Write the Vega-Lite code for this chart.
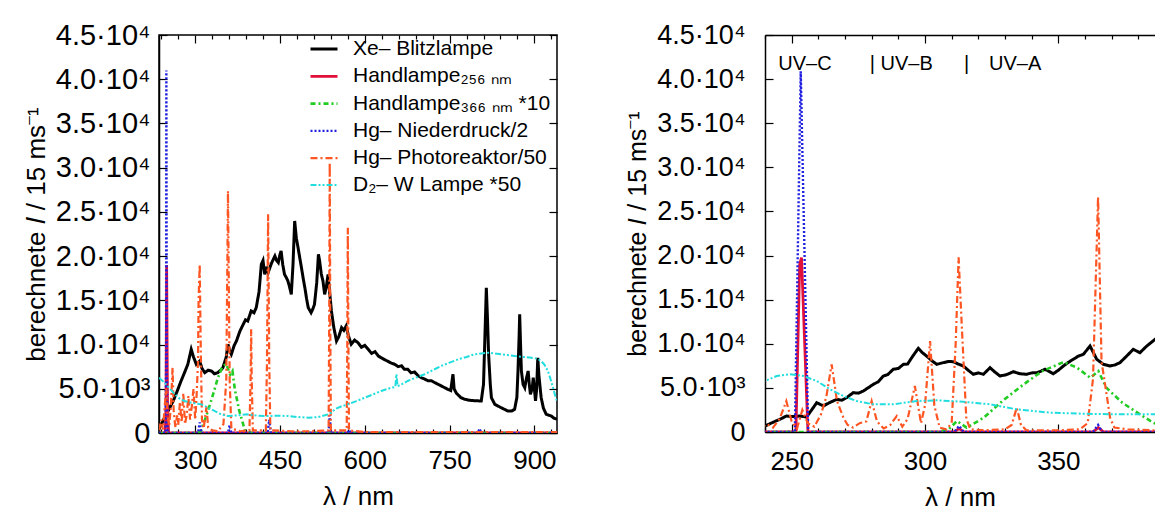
{
"$schema":"https://vega.github.io/schema/vega-lite/v6.json",
"padding":{"left":22,"top":20,"right":0,"bottom":0},
"spacing":64,
"config":{"font":"Liberation Sans","view":{"stroke":"black","strokeWidth":1.5},
"axis":{"grid":false,"domainColor":"black","domainWidth":1.5,"tickColor":"black","tickWidth":1.2,"labelColor":"black","titleColor":"black","labelFont":"Liberation Sans","titleFont":"Liberation Sans","titleFontWeight":"normal","labelOverlap":false,"labelFlush":false,"labelBound":false}},
"resolve":{"scale":{"x":"independent","y":"independent","color":"independent","strokeDash":"independent","strokeWidth":"independent"},"legend":{"color":"independent","strokeDash":"independent"}},
"datasets":{
"left":[
{"k":"Xe","x":236,"y":450},{"k":"Xe","x":244,"y":1500},{"k":"Xe","x":252,"y":2490},{"k":"Xe","x":261,"y":3600},{"k":"Xe","x":268,"y":4700},{"k":"Xe","x":275,"y":5880},{"k":"Xe","x":281,"y":6800},{"k":"Xe","x":287,"y":7770},{"k":"Xe","x":293,"y":9460},{"k":"Xe","x":297,"y":8600},{"k":"Xe","x":302,"y":7770},{"k":"Xe","x":308,"y":8140},{"k":"Xe","x":312,"y":7300},{"k":"Xe","x":317,"y":6820},{"k":"Xe","x":323,"y":7100},{"k":"Xe","x":329,"y":7010},{"k":"Xe","x":334,"y":6700},{"k":"Xe","x":340,"y":6820},{"k":"Xe","x":345,"y":7100},{"k":"Xe","x":349,"y":7380},{"k":"Xe","x":355,"y":8600},{"k":"Xe","x":358,"y":10030},{"k":"Xe","x":361,"y":9300},{"k":"Xe","x":364,"y":8900},{"k":"Xe","x":369,"y":9900},{"k":"Xe","x":373,"y":10400},{"k":"Xe","x":379,"y":11500},{"k":"Xe","x":385,"y":12290},{"k":"Xe","x":389,"y":12800},{"k":"Xe","x":393,"y":12660},{"k":"Xe","x":399,"y":13800},{"k":"Xe","x":404,"y":13600},{"k":"Xe","x":408,"y":14170},{"k":"Xe","x":413,"y":16000},{"k":"Xe","x":417,"y":19080},{"k":"Xe","x":420,"y":19500},{"k":"Xe","x":423,"y":17940},{"k":"Xe","x":426,"y":18800},{"k":"Xe","x":429,"y":18130},{"k":"Xe","x":435,"y":19200},{"k":"Xe","x":441,"y":20010},{"k":"Xe","x":444,"y":19500},{"k":"Xe","x":447,"y":19260},{"k":"Xe","x":450,"y":20200},{"k":"Xe","x":452,"y":20580},{"k":"Xe","x":455,"y":19000},{"k":"Xe","x":458,"y":17940},{"k":"Xe","x":461,"y":17600},{"k":"Xe","x":464,"y":17190},{"k":"Xe","x":467,"y":16500},{"k":"Xe","x":470,"y":15680},{"k":"Xe","x":473,"y":19000},{"k":"Xe","x":476,"y":23970},{"k":"Xe","x":479,"y":22000},{"k":"Xe","x":482,"y":20950},{"k":"Xe","x":485,"y":19800},{"k":"Xe","x":488,"y":18690},{"k":"Xe","x":491,"y":17500},{"k":"Xe","x":494,"y":16430},{"k":"Xe","x":497,"y":15200},{"k":"Xe","x":500,"y":14170},{"k":"Xe","x":505,"y":13600},{"k":"Xe","x":508,"y":14000},{"k":"Xe","x":511,"y":14550},{"k":"Xe","x":515,"y":17000},{"k":"Xe","x":518,"y":20210},{"k":"Xe","x":520,"y":19500},{"k":"Xe","x":523,"y":18000},{"k":"Xe","x":526,"y":17190},{"k":"Xe","x":529,"y":15680},{"k":"Xe","x":532,"y":16500},{"k":"Xe","x":535,"y":17940},{"k":"Xe","x":538,"y":15800},{"k":"Xe","x":541,"y":13800},{"k":"Xe","x":545,"y":12000},{"k":"Xe","x":550,"y":10400},{"k":"Xe","x":554,"y":10900},{"k":"Xe","x":559,"y":11910},{"k":"Xe","x":563,"y":11600},{"k":"Xe","x":567,"y":12100},{"k":"Xe","x":571,"y":11000},{"k":"Xe","x":576,"y":10030},{"k":"Xe","x":582,"y":10500},{"k":"Xe","x":588,"y":10210},{"k":"Xe","x":594,"y":9700},{"k":"Xe","x":600,"y":9900},{"k":"Xe","x":606,"y":9460},{"k":"Xe","x":612,"y":9000},{"k":"Xe","x":618,"y":9200},{"k":"Xe","x":624,"y":8700},{"k":"Xe","x":629,"y":8510},{"k":"Xe","x":635,"y":8300},{"k":"Xe","x":641,"y":8100},{"k":"Xe","x":647,"y":7900},{"k":"Xe","x":653,"y":7770},{"k":"Xe","x":659,"y":7500},{"k":"Xe","x":665,"y":7600},{"k":"Xe","x":670,"y":7200},{"k":"Xe","x":676,"y":7200},{"k":"Xe","x":682,"y":6800},{"k":"Xe","x":688,"y":6900},{"k":"Xe","x":694,"y":6500},{"k":"Xe","x":700,"y":6250},{"k":"Xe","x":706,"y":6100},{"k":"Xe","x":712,"y":5900},{"k":"Xe","x":718,"y":5900},{"k":"Xe","x":724,"y":5690},{"k":"Xe","x":730,"y":5500},{"k":"Xe","x":736,"y":5300},{"k":"Xe","x":742,"y":5100},{"k":"Xe","x":747,"y":4940},{"k":"Xe","x":752,"y":4800},{"k":"Xe","x":756,"y":6640},{"k":"Xe","x":758,"y":5000},{"k":"Xe","x":762,"y":4500},{"k":"Xe","x":770,"y":4000},{"k":"Xe","x":777,"y":3810},{"k":"Xe","x":785,"y":3700},{"k":"Xe","x":795,"y":3650},{"k":"Xe","x":806,"y":3620},{"k":"Xe","x":810,"y":5500},{"k":"Xe","x":813,"y":12000},{"k":"Xe","x":815,"y":16430},{"k":"Xe","x":817,"y":13000},{"k":"Xe","x":819,"y":8900},{"k":"Xe","x":822,"y":5500},{"k":"Xe","x":824,"y":3990},{"k":"Xe","x":830,"y":3240},{"k":"Xe","x":840,"y":2900},{"k":"Xe","x":853,"y":2490},{"k":"Xe","x":860,"y":2500},{"k":"Xe","x":865,"y":2680},{"k":"Xe","x":869,"y":4000},{"k":"Xe","x":871,"y":7010},{"k":"Xe","x":873,"y":11000},{"k":"Xe","x":874,"y":13420},{"k":"Xe","x":876,"y":9000},{"k":"Xe","x":877,"y":7010},{"k":"Xe","x":880,"y":5500},{"k":"Xe","x":883,"y":5120},{"k":"Xe","x":886,"y":6200},{"k":"Xe","x":889,"y":7010},{"k":"Xe","x":891,"y":5500},{"k":"Xe","x":893,"y":4380},{"k":"Xe","x":896,"y":5000},{"k":"Xe","x":898,"y":6250},{"k":"Xe","x":900,"y":5000},{"k":"Xe","x":902,"y":3620},{"k":"Xe","x":904,"y":5000},{"k":"Xe","x":906,"y":8510},{"k":"Xe","x":908,"y":6500},{"k":"Xe","x":912,"y":3990},{"k":"Xe","x":916,"y":2800},{"k":"Xe","x":921,"y":2110},{"k":"Xe","x":930,"y":1920},{"k":"Xe","x":934,"y":1700},{"k":"Xe","x":940,"y":1550},
{"k":"H256","x":236,"y":0},{"k":"H256","x":247,"y":0},{"k":"H256","x":248.5,"y":3000},{"k":"H256","x":249.5,"y":19000},{"k":"H256","x":251,"y":3000},{"k":"H256","x":253,"y":0},{"k":"H256","x":940,"y":0},
{"k":"H366","x":236,"y":0},{"k":"H366","x":300,"y":0},{"k":"H366","x":310,"y":200},{"k":"H366","x":320,"y":2000},{"k":"H366","x":330,"y":4000},{"k":"H366","x":340,"y":6200},{"k":"H366","x":348,"y":7500},{"k":"H366","x":355,"y":7800},{"k":"H366","x":362,"y":6600},{"k":"H366","x":366,"y":7000},{"k":"H366","x":370,"y":5000},{"k":"H366","x":378,"y":2500},{"k":"H366","x":388,"y":300},{"k":"H366","x":400,"y":0},{"k":"H366","x":940,"y":0},
{"k":"HgN","x":236,"y":0},{"k":"HgN","x":247.5,"y":0},{"k":"HgN","x":248.5,"y":8000},{"k":"HgN","x":249,"y":41000},{"k":"HgN","x":249.8,"y":8000},{"k":"HgN","x":251,"y":0},{"k":"HgN","x":305,"y":0},{"k":"HgN","x":308,"y":1200},{"k":"HgN","x":311,"y":0},{"k":"HgN","x":358,"y":0},{"k":"HgN","x":361,"y":900},{"k":"HgN","x":364,"y":0},{"k":"HgN","x":428,"y":0},{"k":"HgN","x":431,"y":1500},{"k":"HgN","x":434,"y":0},{"k":"HgN","x":536,"y":0},{"k":"HgN","x":538,"y":2000},{"k":"HgN","x":540,"y":0},{"k":"HgN","x":570,"y":0},{"k":"HgN","x":572,"y":600},{"k":"HgN","x":574,"y":0},{"k":"HgN","x":800,"y":0},{"k":"HgN","x":803,"y":500},{"k":"HgN","x":806,"y":0},{"k":"HgN","x":940,"y":0},
{"k":"HgP","x":236,"y":300},{"k":"HgP","x":240,"y":1500},{"k":"HgP","x":243,"y":400},{"k":"HgP","x":246,"y":3000},{"k":"HgP","x":249,"y":5000},{"k":"HgP","x":251,"y":2000},{"k":"HgP","x":254,"y":800},{"k":"HgP","x":257,"y":3000},{"k":"HgP","x":260,"y":7400},{"k":"HgP","x":262,"y":2500},{"k":"HgP","x":265,"y":600},{"k":"HgP","x":268,"y":2000},{"k":"HgP","x":270,"y":900},{"k":"HgP","x":273,"y":3500},{"k":"HgP","x":276,"y":1200},{"k":"HgP","x":279,"y":4500},{"k":"HgP","x":282,"y":1000},{"k":"HgP","x":285,"y":2000},{"k":"HgP","x":288,"y":4200},{"k":"HgP","x":291,"y":1500},{"k":"HgP","x":294,"y":3000},{"k":"HgP","x":297,"y":5000},{"k":"HgP","x":300,"y":1500},{"k":"HgP","x":302,"y":3500},{"k":"HgP","x":305,"y":8000},{"k":"HgP","x":306,"y":15000},{"k":"HgP","x":308,"y":19080},{"k":"HgP","x":310,"y":9000},{"k":"HgP","x":312,"y":1500},{"k":"HgP","x":315,"y":500},{"k":"HgP","x":320,"y":3000},{"k":"HgP","x":323,"y":600},{"k":"HgP","x":330,"y":300},{"k":"HgP","x":340,"y":200},{"k":"HgP","x":350,"y":1000},{"k":"HgP","x":355,"y":6000},{"k":"HgP","x":357,"y":20000},{"k":"HgP","x":358,"y":27360},{"k":"HgP","x":359,"y":20000},{"k":"HgP","x":361,"y":6000},{"k":"HgP","x":364,"y":500},{"k":"HgP","x":380,"y":200},{"k":"HgP","x":396,"y":300},{"k":"HgP","x":398,"y":6000},{"k":"HgP","x":399,"y":11730},{"k":"HgP","x":400,"y":6000},{"k":"HgP","x":402,"y":300},{"k":"HgP","x":425,"y":300},{"k":"HgP","x":427,"y":8000},{"k":"HgP","x":429,"y":24730},{"k":"HgP","x":431,"y":8000},{"k":"HgP","x":433,"y":300},{"k":"HgP","x":470,"y":200},{"k":"HgP","x":500,"y":200},{"k":"HgP","x":536,"y":300},{"k":"HgP","x":537,"y":12000},{"k":"HgP","x":538,"y":30560},{"k":"HgP","x":539,"y":12000},{"k":"HgP","x":540,"y":300},{"k":"HgP","x":568,"y":300},{"k":"HgP","x":569,"y":10000},{"k":"HgP","x":570,"y":23210},{"k":"HgP","x":571,"y":10000},{"k":"HgP","x":572,"y":300},{"k":"HgP","x":600,"y":100},{"k":"HgP","x":700,"y":100},{"k":"HgP","x":800,"y":100},{"k":"HgP","x":940,"y":100},
{"k":"D2","x":236,"y":6250},{"k":"D2","x":246,"y":5690},{"k":"D2","x":255,"y":5000},{"k":"D2","x":264,"y":4380},{"k":"D2","x":272,"y":3900},{"k":"D2","x":281,"y":3620},{"k":"D2","x":293,"y":3430},{"k":"D2","x":311,"y":3240},{"k":"D2","x":322,"y":2900},{"k":"D2","x":334,"y":2490},{"k":"D2","x":346,"y":2100},{"k":"D2","x":358,"y":1920},{"k":"D2","x":375,"y":2000},{"k":"D2","x":393,"y":2110},{"k":"D2","x":410,"y":1950},{"k":"D2","x":429,"y":1920},{"k":"D2","x":447,"y":1950},{"k":"D2","x":464,"y":1920},{"k":"D2","x":482,"y":1800},{"k":"D2","x":500,"y":1730},{"k":"D2","x":518,"y":1800},{"k":"D2","x":535,"y":2110},{"k":"D2","x":541,"y":2300},{"k":"D2","x":547,"y":2680},{"k":"D2","x":558,"y":3000},{"k":"D2","x":570,"y":3240},{"k":"D2","x":585,"y":3600},{"k":"D2","x":600,"y":3990},{"k":"D2","x":614,"y":4350},{"k":"D2","x":629,"y":4750},{"k":"D2","x":647,"y":5120},{"k":"D2","x":654,"y":5200},{"k":"D2","x":656,"y":6640},{"k":"D2","x":658,"y":5300},{"k":"D2","x":665,"y":5500},{"k":"D2","x":676,"y":5880},{"k":"D2","x":690,"y":6250},{"k":"D2","x":706,"y":6640},{"k":"D2","x":720,"y":7100},{"k":"D2","x":735,"y":7580},{"k":"D2","x":750,"y":7950},{"k":"D2","x":765,"y":8330},{"k":"D2","x":780,"y":8600},{"k":"D2","x":794,"y":8900},{"k":"D2","x":806,"y":9000},{"k":"D2","x":818,"y":9080},{"k":"D2","x":830,"y":9000},{"k":"D2","x":842,"y":8900},{"k":"D2","x":855,"y":8800},{"k":"D2","x":865,"y":8710},{"k":"D2","x":880,"y":8600},{"k":"D2","x":895,"y":8510},{"k":"D2","x":905,"y":8400},{"k":"D2","x":912,"y":8140},{"k":"D2","x":918,"y":7700},{"k":"D2","x":924,"y":7010},{"k":"D2","x":928,"y":6200},{"k":"D2","x":933,"y":5120},{"k":"D2","x":937,"y":4200},{"k":"D2","x":940,"y":3620}
],
"right":[
{"k":"Xe","x":238,"y":400},{"k":"Xe","x":240,"y":680},{"k":"Xe","x":243,"y":1100},{"k":"Xe","x":245.6,"y":1440},{"k":"Xe","x":248,"y":1810},{"k":"Xe","x":250,"y":1750},{"k":"Xe","x":253,"y":1810},{"k":"Xe","x":255.6,"y":1700},{"k":"Xe","x":257.5,"y":2500},{"k":"Xe","x":259.4,"y":3320},{"k":"Xe","x":261.9,"y":2950},{"k":"Xe","x":264,"y":3300},{"k":"Xe","x":266.9,"y":3700},{"k":"Xe","x":268.8,"y":3600},{"k":"Xe","x":270.6,"y":3890},{"k":"Xe","x":273.1,"y":4460},{"k":"Xe","x":275,"y":4400},{"k":"Xe","x":276.9,"y":4650},{"k":"Xe","x":280.6,"y":5400},{"k":"Xe","x":282.5,"y":5700},{"k":"Xe","x":284.4,"y":6350},{"k":"Xe","x":286,"y":6500},{"k":"Xe","x":288.1,"y":7110},{"k":"Xe","x":290,"y":7200},{"k":"Xe","x":291.9,"y":7670},{"k":"Xe","x":293.5,"y":7700},{"k":"Xe","x":295,"y":8420},{"k":"Xe","x":297.5,"y":9490},{"k":"Xe","x":299,"y":9000},{"k":"Xe","x":300.6,"y":8610},{"k":"Xe","x":302.5,"y":8100},{"k":"Xe","x":304.4,"y":7670},{"k":"Xe","x":306.9,"y":7860},{"k":"Xe","x":308.8,"y":8000},{"k":"Xe","x":310.6,"y":7970},{"k":"Xe","x":312.5,"y":7700},{"k":"Xe","x":314.4,"y":7480},{"k":"Xe","x":316.2,"y":7000},{"k":"Xe","x":318.1,"y":6540},{"k":"Xe","x":320,"y":6700},{"k":"Xe","x":321.9,"y":6540},{"k":"Xe","x":324.4,"y":7290},{"k":"Xe","x":326.2,"y":6800},{"k":"Xe","x":328.1,"y":6350},{"k":"Xe","x":330.6,"y":6500},{"k":"Xe","x":333.1,"y":6840},{"k":"Xe","x":335.6,"y":6600},{"k":"Xe","x":338.1,"y":6540},{"k":"Xe","x":340,"y":6700},{"k":"Xe","x":341.9,"y":6720},{"k":"Xe","x":343.5,"y":6900},{"k":"Xe","x":345,"y":7110},{"k":"Xe","x":348.1,"y":6610},{"k":"Xe","x":350,"y":7000},{"k":"Xe","x":351.9,"y":7480},{"k":"Xe","x":353.8,"y":7900},{"k":"Xe","x":355.6,"y":8240},{"k":"Xe","x":357.5,"y":8600},{"k":"Xe","x":359.4,"y":8810},{"k":"Xe","x":361.9,"y":9750},{"k":"Xe","x":364.4,"y":8240},{"k":"Xe","x":366.9,"y":7670},{"k":"Xe","x":369.4,"y":7480},{"k":"Xe","x":371.2,"y":7600},{"k":"Xe","x":373.1,"y":7860},{"k":"Xe","x":375.6,"y":8600},{"k":"Xe","x":378.1,"y":9370},{"k":"Xe","x":380.6,"y":8990},{"k":"Xe","x":383,"y":9700},{"k":"Xe","x":386.3,"y":10510},{"k":"Xe","x":390,"y":11200},{"k":"Xe","x":395,"y":11800},{"k":"Xe","x":400,"y":12000},
{"k":"H256","x":238,"y":0},{"k":"H256","x":251.6,"y":0},{"k":"H256","x":253,"y":19000},{"k":"H256","x":253.7,"y":19760},{"k":"H256","x":256.1,"y":0},{"k":"H256","x":311,"y":0},{"k":"H256","x":312.8,"y":400},{"k":"H256","x":314.5,"y":0},{"k":"H256","x":363,"y":0},{"k":"H256","x":365,"y":500},{"k":"H256","x":367,"y":0},{"k":"H256","x":400,"y":0},
{"k":"H366","x":238,"y":0},{"k":"H366","x":305,"y":0},{"k":"H366","x":309,"y":340},{"k":"H366","x":312,"y":1250},{"k":"H366","x":315.6,"y":490},{"k":"H366","x":322,"y":1620},{"k":"H366","x":329,"y":3510},{"k":"H366","x":337,"y":5400},{"k":"H366","x":344,"y":6910},{"k":"H366","x":352,"y":7930},{"k":"H366","x":357,"y":7290},{"k":"H366","x":362,"y":6150},{"k":"H366","x":365,"y":6910},{"k":"H366","x":368,"y":5020},{"k":"H366","x":374,"y":3320},{"k":"H366","x":380.6,"y":2000},{"k":"H366","x":385.6,"y":1050},{"k":"H366","x":390,"y":500},{"k":"H366","x":400,"y":0},
{"k":"HgN","x":238,"y":0},{"k":"HgN","x":251.2,"y":0},{"k":"HgN","x":253.4,"y":40900},{"k":"HgN","x":256.2,"y":0},{"k":"HgN","x":311,"y":0},{"k":"HgN","x":312.8,"y":700},{"k":"HgN","x":314.5,"y":0},{"k":"HgN","x":363,"y":0},{"k":"HgN","x":364.9,"y":800},{"k":"HgN","x":366.5,"y":0},{"k":"HgN","x":400,"y":0},
{"k":"HgP","x":238,"y":300},{"k":"HgP","x":240.6,"y":900},{"k":"HgP","x":243,"y":500},{"k":"HgP","x":245.5,"y":1500},{"k":"HgP","x":248,"y":3500},{"k":"HgP","x":250,"y":1200},{"k":"HgP","x":252,"y":400},{"k":"HgP","x":254,"y":2500},{"k":"HgP","x":256,"y":1000},{"k":"HgP","x":258.5,"y":600},{"k":"HgP","x":261,"y":2000},{"k":"HgP","x":263,"y":4000},{"k":"HgP","x":265,"y":7670},{"k":"HgP","x":267,"y":3500},{"k":"HgP","x":269.4,"y":1620},{"k":"HgP","x":271,"y":800},{"k":"HgP","x":273,"y":500},{"k":"HgP","x":275.5,"y":1000},{"k":"HgP","x":278,"y":1200},{"k":"HgP","x":280,"y":3510},{"k":"HgP","x":282,"y":1200},{"k":"HgP","x":284.5,"y":400},{"k":"HgP","x":287,"y":800},{"k":"HgP","x":289.4,"y":1810},{"k":"HgP","x":291.5,"y":600},{"k":"HgP","x":293.5,"y":1500},{"k":"HgP","x":296.2,"y":5210},{"k":"HgP","x":298.5,"y":1000},{"k":"HgP","x":300,"y":3000},{"k":"HgP","x":301.9,"y":10310},{"k":"HgP","x":303.5,"y":3000},{"k":"HgP","x":305.5,"y":500},{"k":"HgP","x":308,"y":300},{"k":"HgP","x":310,"y":1000},{"k":"HgP","x":311.5,"y":10000},{"k":"HgP","x":312.6,"y":19800},{"k":"HgP","x":313.8,"y":12000},{"k":"HgP","x":315.5,"y":1500},{"k":"HgP","x":317,"y":300},{"k":"HgP","x":322,"y":200},{"k":"HgP","x":330,"y":300},{"k":"HgP","x":332.5,"y":800},{"k":"HgP","x":334.4,"y":2750},{"k":"HgP","x":336,"y":800},{"k":"HgP","x":338,"y":200},{"k":"HgP","x":350,"y":200},{"k":"HgP","x":358,"y":300},{"k":"HgP","x":361,"y":1000},{"k":"HgP","x":363,"y":6000},{"k":"HgP","x":364.9,"y":26640},{"k":"HgP","x":366.2,"y":8000},{"k":"HgP","x":368,"y":4460},{"k":"HgP","x":369.4,"y":1620},{"k":"HgP","x":371,"y":500},{"k":"HgP","x":376,"y":300},{"k":"HgP","x":385,"y":200},{"k":"HgP","x":400,"y":200},
{"k":"D2","x":238,"y":5500},{"k":"D2","x":240,"y":5780},{"k":"D2","x":244.4,"y":6350},{"k":"D2","x":249.4,"y":6540},{"k":"D2","x":254.4,"y":6350},{"k":"D2","x":259.4,"y":5780},{"k":"D2","x":264.4,"y":4840},{"k":"D2","x":269.4,"y":4080},{"k":"D2","x":274.4,"y":3510},{"k":"D2","x":280.6,"y":3140},{"k":"D2","x":288.1,"y":3140},{"k":"D2","x":296.9,"y":3510},{"k":"D2","x":304.4,"y":3590},{"k":"D2","x":314.4,"y":3430},{"k":"D2","x":324.4,"y":3140},{"k":"D2","x":334.4,"y":2570},{"k":"D2","x":346.9,"y":2190},{"k":"D2","x":359.4,"y":2070},{"k":"D2","x":371.9,"y":2000},{"k":"D2","x":386.3,"y":2000},{"k":"D2","x":400,"y":2000}
],
"bands":[{"x":245,"y":41700,"t":"UV–C"},{"x":279.3,"y":41700,"t":"| UV–B"},{"x":314.6,"y":41700,"t":"|"},{"x":324,"y":41700,"t":"UV–A"}]
},
"hconcat":[
{
"width":398,"height":398,
"data":{"name":"left"},
"resolve":{"axis":{"x":"independent","y":"independent"}},
"layer":[
{"mark":{"type":"line","clip":true},
"encoding":{
"x":{"field":"x","type":"quantitative","scale":{"domain":[236,940],"nice":false,"zero":false},
"axis":{"orient":"bottom","title":"λ / nm","values":[240,270,300,330,360,390,420,450,480,510,540,570,600,630,660,690,720,750,780,810,840,870,900,930],"labelExpr":"datum.value % 150 === 0 ? datum.label : ''","tickSize":{"condition":{"test":"datum.value % 150 === 0","value":-8},"value":-4},"labelFontSize":26,"labelPadding":22,"titleFontSize":26,"titlePadding":6}},
"y":{"field":"y","type":"quantitative","scale":{"domain":[0,45000],"nice":false},
"axis":{"orient":"left","title":"berechnete 𝐼 / 15 ms⁻¹","values":[0,5000,10000,15000,20000,25000,30000,35000,40000,45000],"labelExpr":"datum.value === 0 ? '0' : datum.value === 5000 ? '5.0·10³' : format(datum.value/10000, '.1f') + '·10⁴'","tickSize":-8,"labelFontSize":29,"labelPadding":17,"titleFontSize":26,"titlePadding":6}},
"color":{"field":"k","type":"nominal","scale":{"domain":["Xe","H256","H366","HgN","HgP","D2"],"range":["#000000","#e0103a","#22cc22","#2020e0","#ff5522","#22dddd"]},
"legend":{"orient":"none","legendX":150,"legendY":-1,"title":null,"symbolType":"stroke","symbolSize":729,"symbolStrokeWidth":2,"labelFontSize":21,"labelFont":"Liberation Sans","labelColor":"black","labelLimit":500,"rowPadding":2.3,"labelOffset":14,"labelExpr":"datum.label === 'Xe' ? 'Xe– Blitzlampe' : datum.label === 'H256' ? 'Handlampe₂₅₆ ₙₘ' : datum.label === 'H366' ? 'Handlampe₃₆₆ ₙₘ *10' : datum.label === 'HgN' ? 'Hg– Niederdruck/2' : datum.label === 'HgP' ? 'Hg– Photoreaktor/50' : 'D₂– W Lampe *50'"}},
"strokeDash":{"field":"k","type":"nominal","scale":{"domain":["Xe","H256","H366","HgN","HgP","D2"],"range":[[1,0],[1,0],[5,3,2,3],[2,2],[7,3,2,3],[6,2,2,2,2,2]]}},
"strokeWidth":{"field":"k","type":"nominal","scale":{"domain":["Xe","H256","H366","HgN","HgP","D2"],"range":[3,2,2,2,2,2]},"legend":null}
}},
{"mark":{"type":"point","opacity":0},
"encoding":{
"x":{"field":"x","type":"quantitative","axis":{"orient":"top","title":null,"labels":false,"domain":false,"values":[240,270,300,330,360,390,420,450,480,510,540,570,600,630,660,690,720,750,780,810,840,870,900,930],"tickSize":{"condition":{"test":"datum.value % 150 === 0","value":-8},"value":-4}}},
"y":{"field":"y","type":"quantitative","axis":{"orient":"right","title":null,"labels":false,"domain":false,"values":[0,5000,10000,15000,20000,25000,30000,35000,40000,45000],"tickSize":-8}}
}}
]
},
{
"width":390,"height":397,
"view":{"stroke":null},
"resolve":{"axis":{"x":"independent","y":"independent"}},
"layer":[
{"data":{"name":"right"},
"mark":{"type":"line","clip":true},
"encoding":{
"x":{"field":"x","type":"quantitative","scale":{"domain":[240,386.25],"nice":false,"zero":false},
"axis":{"orient":"bottom","title":"λ / nm","values":[240,250,260,270,280,290,300,310,320,330,340,350,360,370,380],"labelExpr":"datum.value % 50 === 0 ? datum.label : ''","tickSize":{"condition":{"test":"datum.value % 50 === 0","value":-8},"value":-4},"labelFontSize":26,"labelPadding":24,"titleFontSize":26,"titlePadding":6}},
"y":{"field":"y","type":"quantitative","scale":{"domain":[0,45000],"nice":false},
"axis":{"orient":"left","title":"berechnete 𝐼 / 15 ms⁻¹","values":[0,5000,10000,15000,20000,25000,30000,35000,40000,45000],"labelExpr":"datum.value === 0 ? '0' : datum.value === 5000 ? '5.0·10³' : format(datum.value/10000, '.1f') + '·10⁴'","tickSize":-8,"labelFontSize":27,"labelPadding":28,"titleFontSize":25,"titlePadding":6}},
"color":{"field":"k","type":"nominal","scale":{"domain":["Xe","H256","H366","HgN","HgP","D2"],"range":["#000000","#e0103a","#22cc22","#2020e0","#ff5522","#22dddd"]},"legend":null},
"strokeDash":{"field":"k","type":"nominal","scale":{"domain":["Xe","H256","H366","HgN","HgP","D2"],"range":[[1,0],[1,0],[5,3,2,3],[2,2],[7,3,2,3],[6,2,2,2,2,2]]},"legend":null},
"strokeWidth":{"field":"k","type":"nominal","scale":{"domain":["Xe","H256","H366","HgN","HgP","D2"],"range":[3,2,2,2,2,2]},"legend":null}
}},
{"data":{"name":"bands"},
"mark":{"type":"text","align":"left","baseline":"middle","fontSize":20,"font":"Liberation Sans","color":"black"},
"encoding":{
"x":{"field":"x","type":"quantitative","axis":{"orient":"top","title":null,"labels":false,"domainColor":"black","domainWidth":1.5,"values":[240,250,260,270,280,290,300,310,320,330,340,350,360,370,380],"tickSize":{"condition":{"test":"datum.value % 50 === 0","value":-8},"value":-4}}},
"y":{"field":"y","type":"quantitative","axis":null},
"text":{"field":"t"}
}}
]
}
]
}
